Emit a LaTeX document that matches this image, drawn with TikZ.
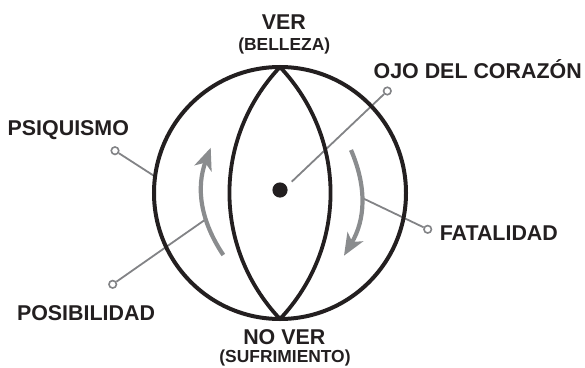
\documentclass[tikz,border=0pt]{standalone}
\usepackage{fontspec}
\setmainfont{Liberation Sans}
\usetikzlibrary{arrows.meta}
\definecolor{inkc}{RGB}{35,31,32}
\definecolor{arcgray}{RGB}{138,140,142}
\definecolor{linegray}{RGB}{130,131,134}
\tikzset{
  lbl/.style={font=\bfseries\fontsize{21.4}{24}\selectfont, text=inkc, inner sep=0pt, anchor=base},
  sublbl/.style={lbl, font=\bfseries\fontsize{17.4}{20}\selectfont},
  knob/.style={circle, draw=linegray, fill=white, line width=1.6pt, inner sep=0pt, minimum size=7.5pt},
  leader/.style={linegray, line width=1.8pt},
  turn/.style={arcgray, line width=4.2pt, -{Stealth[length=22pt,width=18pt,inset=6pt]}}
}
\begin{document}
\begin{tikzpicture}[x=1pt,y=1pt]
        \useasboundingbox (-280,-174) rectangle (305,193);

        % Coordonnées
        \coordinate (O) at (0,0);
        \coordinate (T) at (0,126);
        \coordinate (B) at (0,-126);
        \def\Rcercle{126}

        % Lignes de rappel (sous le dessin)
        \coordinate (eojo) at (11.7,11.3);
        \coordinate (epsi) at (172.5:126);
        \coordinate (epos) at (-74.3,-26.3);
        \coordinate (efat) at (81.7,-4.7);
        \node[knob] (kojo) at (107.3,102) {};
        \node[knob] (kpsi) at (-165,42.3) {};
        \node[knob] (kpos) at (-167.3,-91.3) {};
        \node[knob] (kfat) at (147.7,-36.3) {};
        \draw[leader] (eojo) -- (kojo);
        \draw[leader] (epsi) -- (kpsi);
        \draw[leader] (epos) -- (kpos);
        \draw[leader] (efat) -- (kfat);

        % Grand cercle et amande
        \draw[inkc, line width=4pt] (O) circle (\Rcercle);
        \draw[inkc, line width=3.8pt] (T) to[bend right=43.3] (B);
        \draw[inkc, line width=3.8pt] (T) to[bend left=43.3] (B);

        % Point central
        \fill[inkc] (0,3) circle (7.6);

        % Flèches de rotation
        \coordinate (ga) at (-56.7,-62);
        \coordinate (gb) at (-69.3,45.3);
        \coordinate (da) at (71,43);
        \coordinate (db) at (64,-62.7);
        \draw[turn] (ga) to[bend left=27] (gb);
        \draw[turn] (da) to[bend left=27] (db);

        % Textes
        \node[lbl] (ver) at (3.8,163.7) {VER};
        \node[sublbl] (bel) at (4.2,142.3) {(BELLEZA)};
        \node[lbl] (ojo) at (197.7,114.7) {OJO DEL CORAZÓN};
        \node[lbl] (psi) at (-211.7,58) {PSIQUISMO};
        \node[lbl] (pos) at (-194,-127) {POSIBILIDAD};
        \node[lbl] (fat) at (218.8,-47) {FATALIDAD};
        \node[lbl] (nover) at (4.3,-151.3) {NO VER};
        \node[sublbl] (suf) at (5,-169.5) {(SUFRIMIENTO)};

    \end{tikzpicture}
\end{document}
